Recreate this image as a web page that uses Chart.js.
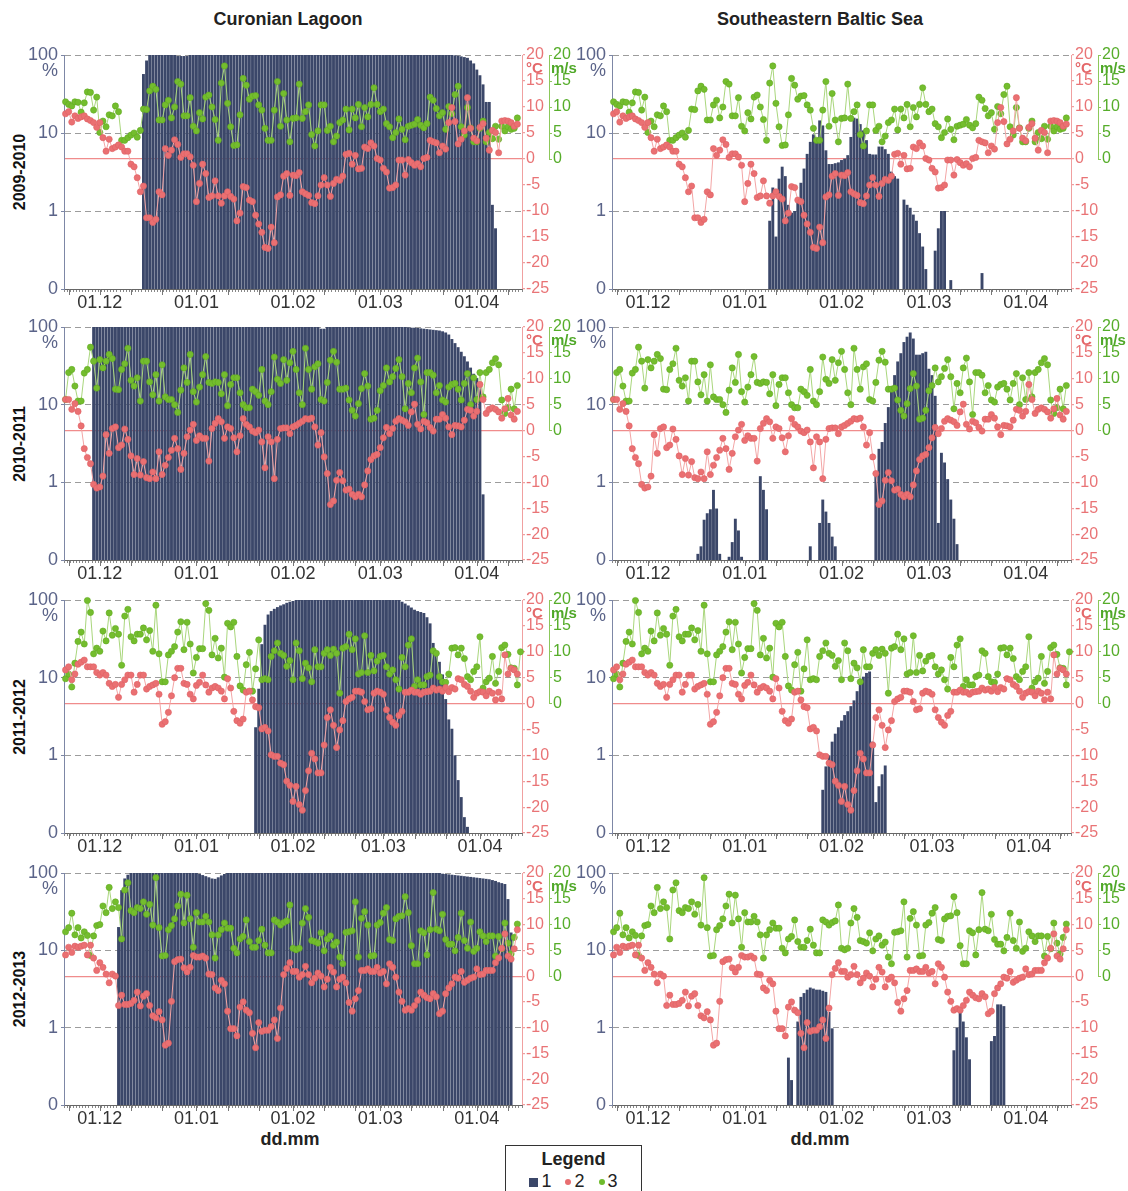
<!DOCTYPE html>
<html>
<head>
<meta charset="utf-8">
<script src="https://cdn.jsdelivr.net/npm/chart.js@4.4.1/dist/chart.umd.min.js"></script>
<style>
  body { margin: 0; width: 1128px; height: 1191px; background: #fff; position: relative; overflow: hidden;
         font-family: 'Liberation Sans', Arial, sans-serif; }
  canvas { position: absolute; }
  .title { position: absolute; top: 9px; width: 400px; text-align: center; font-weight: bold; font-size: 18px; color: #222; }
  .season { position: absolute; width: 120px; height: 20px; line-height: 20px; text-align: center;
            font-weight: bold; font-size: 16px; color: #111; transform: rotate(-90deg); }
  .xlab { position: absolute; top: 1129px; width: 100px; text-align: center; font-weight: bold; font-size: 18px; color: #222; }
  #legend { position: absolute; left: 505px; top: 1145px; width: 135px; height: 60px; border: 1.5px solid #333; text-align: center; }
  #legend .head { font-weight: bold; font-size: 18px; color: #222; margin-top: 3px; }
  #legend .items { font-size: 18px; color: #222; margin-top: 1px; }
  .sq { display: inline-block; width: 9px; height: 9px; background: #3b4769; margin-right: 3px; }
  .dot { display: inline-block; width: 6px; height: 6px; border-radius: 50%; margin: 0 3px 2px 14px; }
</style>
</head>
<body>

<div class="title" style="left:88px">Curonian Lagoon</div>
<div class="title" style="left:620px">Southeastern Baltic Sea</div>
<div class="xlab" style="left:240px">dd.mm</div>
<div class="xlab" style="left:770px">dd.mm</div>
<div id="legend">
  <div class="head">Legend</div>
  <div class="items"><span class="sq"></span>1<span class="dot" style="background:#e86e70"></span>2<span class="dot" style="background:#6fbb2c"></span>3</div>
</div>

<script>
// ---- axis labels / categories ----
const sites = ['Curonian Lagoon', 'Southeastern Baltic Sea'];
const seasons = ['2009-2010', '2010-2011', '2011-2012', '2012-2013'];
const monthLabels = ['01.12', '01.01', '01.02', '01.03', '01.04'];
const monthStart = [11, 42, 73, 101, 132];      // day index, day 0 = 20.11
const monthStartLeap = [11, 42, 73, 102, 133];
const longTicks = [1, 11, 21, 31, 42, 52, 62, 73, 83, 93, 101, 111, 121, 132, 142];
const longTicksLeap = [1, 11, 21, 31, 42, 52, 62, 73, 83, 93, 102, 112, 122, 133, 143];
const iceTicks = [0.1, 1, 10, 100];
const iceTickLabels = ['0', '1', '10', '100'];
const windTicks = [0, 5, 10, 15, 20];

// ---- air temperature, °C (daily) ----
const temp0910 = [8.7,9.1,7.1,8.3,7.8,8.1,8.3,7.7,7.4,7.0,
 6.1,7.0,4.1,1.5,3.8,2.0,2.3,2.7,2.3,1.5,
 1.5,-1.0,-1.5,-3.6,-6.3,-5.2,-11.3,-11.3,-12.2,-11.6,
 -6.3,-6.9,2.0,0.7,1.7,3.7,2.8,0.3,1.0,1.0,
 0.4,-1.2,-8.2,-4.7,-1.0,-2.8,-7.4,-7.1,-4.2,-7.1,
 -8.5,-7.1,-6.3,-7.2,-7.7,-11.9,-10.4,-5.3,-5.5,-7.9,
 -8.2,-10.8,-12.5,-14.1,-17.0,-17.2,-13.1,-16.1,-7.3,-6.9,
 -3.3,-2.8,-7.0,-3.1,-3.2,-2.6,-6.3,-6.7,-7.0,-8.4,
 -8.6,-7.1,-5.0,-3.6,-5.0,-7.2,-4.7,-3.9,-4.1,-3.3,
 0.9,1.1,-1.0,0.7,-1.9,-1.8,2.3,2.0,3.1,2.5,
 0.1,-0.2,-1.8,-2.5,-5.6,-5.5,-5.0,-0.2,-0.2,-3.1,
 -0.1,-0.7,-1.2,-0.9,-1.5,0.1,0.3,3.6,3.3,3.1,
 1.2,2.5,1.9,7.0,9.9,7.2,2.9,3.8,5.4,11.8,
 5.9,4.0,3.5,6.1,6.8,4.0,1.7,5.5,5.1,1.2,
 7.3,7.4,7.3,7.0,6.3,6.7];
const temp1011 = [6.0,6.0,4.1,5.2,3.7,0.9,-3.5,-5.2,-6.4,-10.4,
 -11.1,-10.9,-8.8,-0.8,-4.4,0.4,0.7,-3.3,-2.8,0.3,
 -1.7,-4.9,-8.5,-5.4,-8.6,-6.0,-9.1,-9.3,-8.0,-9.3,
 -4.1,-8.5,-6.7,-5.2,-3.8,-1.5,-3.5,-7.5,-4.4,-1.2,
 0.1,1.2,-1.9,-1.0,-1.5,-1.5,-5.9,0.4,1.4,2.3,
 1.7,-1.5,0.7,0.4,-1.4,-4.1,-1.0,2.3,1.2,0.7,
 -0.1,-0.4,0.1,-2.2,-7.2,-1.2,-2.2,-9.3,-1.7,0.4,
 0.5,0.5,-0.6,0.7,1.0,1.4,1.8,2.3,2.2,2.4,
 0.7,-2.8,-0.4,-5.1,-8.3,-14.3,-13.6,-9.6,-8.1,-9.7,
 -11.5,-11.3,-12.3,-12.8,-12.3,-12.8,-10.5,-7.8,-5.6,-4.9,
 -4.6,-3.3,-1.4,0.6,-0.6,0.4,1.8,2.3,2.0,1.7,
 1.0,3.6,5.1,1.2,0.3,1.8,1.5,0.6,-0.1,2.2,
 2.2,3.1,2.4,0.7,-0.8,1.0,0.9,0.7,2.0,4.1,
 3.9,2.8,3.7,8.9,6.0,3.3,4.1,4.4,4.1,3.6,
 2.4,4.2,6.2,3.0,2.2,3.7];
const temp1112 = [6.5,7.1,4.6,5.7,7.6,8.0,8.4,7.1,7.1,7.1,
 6.0,5.5,6.0,5.5,3.9,3.3,3.7,1.2,3.7,4.6,
 5.5,5.5,2.2,3.7,5.5,5.5,2.8,3.3,3.6,3.9,
 1.8,-4.0,-3.5,-1.7,1.5,5.0,6.8,6.8,3.9,3.7,
 1.8,0.9,3.5,4.1,5.5,3.6,2.2,3.0,3.3,3.0,
 2.4,0.9,4.8,3.0,-1.5,-3.3,-3.8,-3.0,2.2,2.4,
 0.7,-0.6,-0.8,-4.9,-4.6,-5.3,-9.9,-10.2,-10.2,-11.5,
 -11.8,-15.0,-15.8,-18.9,-16.0,-19.5,-20.6,-16.8,-13.0,-9.6,
 -10.7,-13.4,-13.4,-8.0,-2.7,-1.2,-4.2,-8.5,-5.1,-3.3,
 0.4,0.9,1.2,2.4,2.4,2.2,0.4,-1.2,-1.0,2.0,
 2.4,2.2,1.8,-1.2,-2.7,-3.6,-4.2,-2.3,-1.5,2.2,
 2.2,2.6,2.2,2.2,1.8,2.2,2.3,2.4,3.0,2.6,
 2.8,2.4,3.1,2.3,3.1,2.8,4.8,4.6,3.7,3.3,
 2.4,1.2,2.0,2.3,2.2,1.5,2.4,2.0,0.7,2.2,
 0.9,9.4,5.7,6.8,6.5,5.7];
const temp1213 = [4.1,5.6,4.6,5.8,5.6,5.8,6.0,4.1,6.0,3.5,
 1.1,2.6,1.7,0.4,-1.3,0.4,0.0,-5.7,-3.7,-5.5,
 -5.5,-5.3,-4.7,-3.1,-5.8,-3.9,-3.4,-5.7,-7.7,-8.1,
 -6.9,-8.5,-13.4,-13.0,-4.9,2.8,3.2,3.3,1.6,0.8,
 1.7,4.0,3.7,3.7,3.9,3.5,0.4,0.3,-2.3,-2.8,
 -0.8,-1.5,-6.8,-10.2,-10.2,-11.6,-6.0,-5.0,-6.6,-7.1,
 -11.1,-13.9,-9.0,-10.7,-10.5,-10.5,-9.8,-8.5,-12.1,-6.2,
 0.3,1.5,2.6,0.9,0.9,-0.2,0.3,1.9,0.3,-1.3,
 -0.4,0.6,0.0,-2.1,-0.6,1.7,0.8,-2.1,-0.6,-0.2,
 -1.3,-5.1,-6.8,-4.4,-2.8,1.1,1.1,1.4,0.9,0.9,
 1.7,0.6,0.9,-1.5,2.4,1.7,-0.2,-3.1,-4.9,-6.6,
 -6.3,-6.6,-5.7,-4.7,-3.1,-3.7,-4.2,-4.4,-3.4,-4.0,
 -7.3,-6.8,-3.4,-2.3,-1.5,-0.2,-0.4,0.9,-1.2,-0.8,
 -0.4,-0.2,1.4,0.3,0.4,1.1,1.1,1.1,2.6,3.5,
 5.4,8.2,3.9,3.3,5.3,9.0];

// ---- wind speed, m/s (daily) ----
const wind0910 = [11.0,10.5,10.2,11.0,10.9,9.0,10.8,12.9,12.8,9.4,
 11.9,5.1,7.3,6.2,8.5,8.3,10.2,9.1,3.6,3.6,
 4.1,4.6,5.0,4.2,5.5,9.6,9.5,13.1,14.0,13.4,
 7.5,7.5,10.4,11.3,7.9,10.0,14.9,14.4,8.3,8.3,
 11.8,6.3,5.4,8.9,7.7,11.9,12.3,10.0,7.6,3.6,
 14.6,17.9,10.7,6.2,2.6,2.7,8.5,15.5,14.2,11.5,
 12.1,12.2,10.4,9.4,5.9,3.6,3.6,9.4,14.9,6.3,
 12.6,7.5,3.3,7.8,7.9,14.4,7.8,9.1,10.4,4.7,
 2.5,5.4,10.4,10.4,5.5,6.3,3.3,4.4,7.0,7.5,
 9.6,5.6,9.6,7.9,10.5,6.2,9.9,8.1,10.5,13.7,
 10.5,9.1,9.6,6.8,6.2,4.1,5.1,7.7,5.7,3.7,
 6.3,6.5,6.7,7.6,6.5,6.0,6.8,11.9,11.3,9.7,
 8.3,8.9,5.7,10.1,8.7,12.4,14.0,6.2,4.6,9.9,
 6.0,3.3,3.3,5.9,7.3,3.3,5.1,3.9,6.3,3.8,
 6.3,5.4,6.2,5.7,5.9,7.9];
const wind1011 = [6.0,11.2,11.8,8.6,5.7,5.7,11.1,11.8,16.1,13.4,
 8.2,13.7,12.1,13.4,14.7,13.9,8.0,7.9,11.8,12.9,
 15.9,9.7,8.6,10.2,5.7,13.4,13.4,9.4,6.9,10.8,
 5.7,12.7,6.5,6.0,6.0,5.0,3.5,7.8,12.1,9.3,
 14.7,7.5,5.5,8.4,10.8,14.3,9.3,9.1,9.4,9.3,
 7.1,10.8,4.8,8.9,10.2,10.2,7.3,5.0,4.4,4.4,
 8.0,7.5,6.8,11.8,5.7,5.0,7.5,14.2,9.9,9.1,
 13.7,9.7,13.1,15.3,11.8,7.3,5.0,15.9,11.8,8.0,
 12.3,12.9,6.0,5.7,9.3,13.6,15.3,13.2,8.0,8.0,
 8.2,5.9,3.9,2.8,5.2,8.1,11.0,8.6,2.2,2.4,
 3.9,7.7,8.7,12.1,9.4,10.4,12.0,13.7,10.4,4.2,
 9.1,7.3,12.1,14.0,9.4,3.1,11.2,11.2,10.7,7.3,
 8.7,5.9,5.5,8.4,8.9,9.1,8.0,5.9,9.1,11.0,
 5.0,10.2,6.0,11.2,6.5,11.2,11.8,13.1,13.9,12.7,
 5.9,3.3,4.4,8.0,4.2,8.7];
const wind1112 = [4.8,5.7,3.2,7.8,12.0,13.8,11.5,19.9,17.6,9.6,
 10.7,10.1,14.0,12.1,17.5,13.2,14.5,13.4,7.4,16.9,
 18.2,12.9,12.1,13.4,13.4,14.6,12.3,14.1,10.1,19.0,
 9.6,4.2,4.2,9.4,10.1,11.0,13.8,15.8,10.4,15.7,
 11.5,5.9,8.9,10.6,10.6,19.3,18.0,9.4,12.6,8.8,
 10.7,5.1,15.5,14.8,15.7,9.1,3.4,2.6,7.5,9.9,
 2.4,6.7,12.3,4.6,4.8,4.6,9.1,10.2,11.7,9.7,
 9.3,7.2,8.3,4.6,11.7,10.2,4.8,7.8,6.9,4.2,
 10.4,7.1,7.1,9.7,10.4,9.3,10.5,9.7,2.0,10.7,
 11.0,13.4,10.4,12.5,5.7,6.0,13.1,6.0,9.3,6.3,
 8.2,9.1,9.3,7.1,5.7,6.5,4.6,2.8,8.9,7.1,
 11.3,12.5,3.3,4.6,3.6,3.6,5.2,5.5,10.2,9.7,
 5.2,4.2,4.1,5.7,10.7,10.8,9.4,10.7,8.7,5.2,
 4.6,6.2,7.1,12.9,3.0,4.2,4.9,9.1,3.9,6.2,
 10.8,11.3,9.5,6.9,6.8,3.6,10.0];
const wind1213 = [8.6,9.4,12.2,8.0,9.4,7.4,8.6,7.9,4.0,7.8,
 9.8,10.0,13.6,12.3,17.2,13.1,14.4,13.3,7.2,16.7,
 18.1,12.7,12.3,13.3,13.1,14.4,12.0,13.9,9.9,19.1,
 9.4,3.9,4.0,9.0,9.8,11.1,13.6,15.9,10.3,15.7,
 11.1,5.6,12.3,10.5,10.5,11.6,10.5,8.0,3.5,8.0,
 9.0,10.3,9.3,9.3,5.4,4.5,7.2,7.7,10.9,6.7,
 5.6,5.6,6.9,9.1,6.0,4.5,4.5,10.9,10.5,9.9,
 10.4,10.7,13.8,5.4,5.1,5.4,10.3,13.1,11.4,6.9,
 6.7,6.4,8.4,4.9,7.2,7.8,6.0,6.6,3.7,2.4,
 8.5,8.6,8.8,14.4,3.7,11.2,12.5,9.9,3.9,4.0,
 9.9,10.4,12.2,13.3,7.1,6.9,11.1,11.6,11.7,15.4,
 12.3,5.9,2.4,2.4,8.8,8.4,4.1,9.0,16.2,9.1,
 8.8,12.0,7.1,6.2,6.2,4.9,7.5,12.2,6.9,5.4,
 10.5,4.8,5.4,8.6,7.8,6.7,7.8,7.8,3.9,7.7,
 5.3,10.3,6.4,4.3,7.5,10.1];

// ---- ice cover, % (daily, from the start day on) ----
const iceLagoon0910Start = 25;
const iceLagoon0910 = [57,85,100,100,100,100,100,100,100,100,100,
 97,97,97,97,
 100,100,100,100,100,100,100,100,100,100,100,100,
 100,100,100,100,100,100,100,100,100,100,100,100,
 100,100,100,100,100,100,100,100,100,100,100,100,
 100,100,100,100,100,100,100,100,100,100,100,100,
 100,100,100,100,100,100,100,100,100,100,100,100,
 100,100,100,100,100,100,100,100,100,100,100,100,
 100,100,100,100,100,100,100,100,100,100,100,100,
 100,99,98,96,94,92,85,78,65,55,42,25,25,1.2,0.6];
const iceSea0910Start = 50;
const iceSea0910 = [0.75,2.0,0.47,2.6,3.7,2.8,1.2,0.95,1.0,1.4,
 2.3,3.5,5.4,7.7,9.6,8.4,14.5,12.5,6.0,4.0,
 4.0,4.1,4.2,4.5,4.7,5.2,8.9,15.7,15.3,13,
 10.8,8.1,5.4,5.3,5.3,6.7,6.7,6.2,5.4,3.2,
 2.8,2.6,0,1.4,1.2,1.1,0.9,0.75,0.52,0.35,
 0.18,0,0,0.31,0.6,1.0,1.0,0,0.13,0,
 0,0,0,0,0,0,0,0.1,0.16];
const iceLagoon1011Start = 9;
const iceLagoon1011 = [100,100,100,100,100,100,100,100,100,100,100,100,
 100,100,100,100,100,100,100,100,100,100,100,100,
 100,100,100,100,100,100,100,100,100,100,100,100,
 100,100,100,100,100,100,100,100,100,100,100,100,
 100,100,100,100,100,100,100,100,100,100,100,100,
 100,100,100,100,100,100,100,100,100,100,100,100,
 100,
 95,95,
 100,100,100,100,100,100,100,100,100,100,100,100,
 100,100,100,100,100,100,100,100,100,100,100,100,
 100,100,
 99,98,98,97,96,95,94,93,92,91,90,88,85,80,70,62,55,48,42,36,30,25,22,19,0.7];
const iceSea1011Start = 27;
const iceSea1011 = [0.12,0.15,0.33,0.4,0.45,0.8,0.46,0.12,
 0,0,
 0.11,0.17,0.34,0.24,0.11,
 0,0,0,0,0,
 1.2,0.8,0.45,
 0,0,0,0,0,0,0,0,0,0,0,0,
 0.1,0.15,
 0,0,
 0.3,0.6,0.42,0.3,0.2,0.15,0.1,
 0,0,0,0,0,0,0,0,0,0,0,
 1.3,2.7,3.3,5.8,9.3,14.7,24,36,46,64,
 75,85,71,44,44,46,48,29,24,13,
 0.3,2.4,1.8,1.1,0.6,0.34,0.16,0.1];
const iceLagoon1112Start = 61;
const iceLagoon1112 = [2.3,7.2,27,48,65,72,77,81,85,88,92,95,97,
 100,100,100,100,100,100,100,100,100,100,100,100,
 100,100,100,100,100,100,100,100,100,100,100,100,
 100,100,100,100,100,100,100,100,100,
 100,95,90,85,80,75,72,70,68,60,50,28,19,16,11,5.3,2.9,2.2,1.0,0.48,0.29,0.16,0.12];
const iceSea1112Start = 67;
const iceSea1112 = [0.36,0.72,1.0,1.5,1.9,2.3,2.8,3.3,3.7,4.3,
 5.1,6.7,8.5,10.3,11.5,12,1.5,0.25,0.4,0.57,0.74];
const iceLagoon1213Start = 17;
const iceLagoon1213 = [20,60,85,95,
 100,100,100,100,100,100,100,100,100,100,100,100,
 100,100,100,100,100,100,100,100,100,100,
 97,94,91,88,85,84,88,93,97,
 100,100,100,100,100,100,100,100,100,100,100,100,
 100,100,100,100,100,100,100,100,100,100,100,100,
 100,100,100,100,100,100,100,100,100,100,100,100,
 100,100,100,100,100,100,100,100,100,100,100,100,
 100,100,100,100,100,100,100,100,100,100,100,100,
 100,100,100,100,100,100,100,100,100,
 98,97,96,95,94,93,92,91,90,89,88,87,86,85,84,83,81,79,76,74,72,46,17];
const iceSea1213Start = 56;
const iceSea1213 = [0.41,0.21,0,1.2,2.5,2.8,3.1,3.3,3.2,3.1,3.1,3.0,2.9,1.6,0.98,
 0,0,0,0,0,0,0,0,0,0,0,0,0,0,0,0,0,0,0,0,0,0,0,0,0,0,0,0,0,0,0,0,0,0,0,0,0,0,
 0.51,1.0,1.55,1.2,0.75,0.39,
 0,0,0,0,0,0,
 0.67,0.78,2.0,2.0,1.9];

const rows = [
  { season: seasons[0], temp: temp0910, wind: wind0910, months: monthStart, marks: longTicks,
    ice: [[iceLagoon0910Start, iceLagoon0910], [iceSea0910Start, iceSea0910]] },
  { season: seasons[1], temp: temp1011, wind: wind1011, months: monthStart, marks: longTicks,
    ice: [[iceLagoon1011Start, iceLagoon1011], [iceSea1011Start, iceSea1011]] },
  { season: seasons[2], temp: temp1112, wind: wind1112, months: monthStartLeap, marks: longTicksLeap,
    ice: [[iceLagoon1112Start, iceLagoon1112], [iceSea1112Start, iceSea1112]] },
  { season: seasons[3], temp: temp1213, wind: wind1213, months: monthStart, marks: longTicks,
    ice: [[iceLagoon1213Start, iceLagoon1213], [iceSea1213Start, iceSea1213]] }
];

const areaTop = [55, 327, 600, 873];
const areaH = [234, 233, 233, 232];
const dayTicks = [];
for (let d = 0; d <= 146; d++) dayTicks.push(d);

Chart.defaults.font.family = "'Liberation Sans', Arial, sans-serif";

// extra marks: longer day ticks, short wind axis line, unit labels
const decor = {
  id: 'decor',
  afterDraw(chart, args, opts) {
    const { ctx, chartArea, scales } = chart;
    const x = scales.x, w = scales.wind, t = scales.temp, ice = scales.ice;
    ctx.save();
    ctx.strokeStyle = '#777';
    ctx.lineWidth = 1;
    opts.marks.forEach(d => {
      const px = Math.round(x.getPixelForValue(d)) + 0.5;
      ctx.beginPath();
      ctx.moveTo(px, chartArea.bottom);
      ctx.lineTo(px, chartArea.bottom + 6);
      ctx.stroke();
    });
    const wx = Math.round(w.left) + 0.5;
    ctx.strokeStyle = '#8cc85a';
    ctx.beginPath();
    ctx.moveTo(wx, w.getPixelForValue(0));
    ctx.lineTo(wx, w.getPixelForValue(20));
    ctx.stroke();
    ctx.textBaseline = 'middle';
    ctx.font = "18px 'Liberation Sans', Arial, sans-serif";
    ctx.fillStyle = '#5b6489';
    ctx.textAlign = 'right';
    ctx.fillText('%', ice.right - 6, chartArea.top + 16);
    ctx.textAlign = 'left';
    ctx.font = "bold 15px 'Liberation Sans', Arial, sans-serif";
    ctx.fillStyle = '#e4686a';
    ctx.fillText('°C', t.left + 4, chartArea.top + 14);
    ctx.fillStyle = '#4fa828';
    ctx.fillText('m/s', w.left + 2, chartArea.top + 14);
    ctx.restore();
  }
};

function makeChart(canvas, row, site) {
  const [start, vals] = row.ice[site];
  const iceData = [];
  vals.forEach((v, i) => { if (v > 0) iceData.push({ x: start + i, y: v }); });
  const tData = row.temp.map((v, i) => ({ x: i, y: v }));
  const wData = row.wind.map((v, i) => ({ x: i, y: v }));
  const greenW = site === 0 ? 36 : 30;

  return new Chart(canvas, {
    data: {
      datasets: [
        { type: 'bar', data: iceData, yAxisID: 'ice', backgroundColor: '#3b4769', borderWidth: 0,
          barPercentage: 0.93, categoryPercentage: 1, order: 3 },
        { type: 'line', data: wData, yAxisID: 'wind', borderColor: '#a9d67c', borderWidth: 1,
          pointRadius: 3.1, pointBackgroundColor: '#74bd2e', pointBorderColor: '#62ab22', pointBorderWidth: 0.6,
          order: 2, clip: 8 },
        { type: 'line', data: tData, yAxisID: 'temp', borderColor: '#f3a5a5', borderWidth: 1,
          pointRadius: 3.1, pointBackgroundColor: '#ea7072', pointBorderColor: '#df6264', pointBorderWidth: 0.6,
          order: 1, clip: 8 }
      ]
    },
    options: {
      responsive: false,
      animation: false,
      devicePixelRatio: 1,
      layout: { padding: { top: 15, left: 0, right: 0, bottom: 0 } },
      plugins: { legend: { display: false }, tooltip: { enabled: false }, decor: { marks: row.marks } },
      scales: {
        x: {
          type: 'linear', min: 0, max: 146,
          afterFit: s => { s.height = 32; },
          afterBuildTicks: s => { s.ticks = dayTicks.map(v => ({ value: v })); },
          ticks: {
            autoSkip: false, maxRotation: 0, minRotation: 0, padding: 0, color: '#333', font: { size: 18 },
            callback: v => { const i = row.months.indexOf(v); return i < 0 ? '' : monthLabels[i]; }
          },
          grid: { drawOnChartArea: false, tickLength: 3, tickColor: '#888' },
          border: { color: '#666' }
        },
        ice: {
          type: 'logarithmic', position: 'left', min: 0.1, max: 100,
          afterFit: s => { s.width = 64; },
          afterBuildTicks: s => { s.ticks = iceTicks.map(v => ({ value: v })); },
          ticks: { color: '#5b6489', font: { size: 18 }, padding: 3,
                   callback: v => iceTickLabels[iceTicks.indexOf(v)] },
          grid: { color: c => (c.tick && c.tick.value > 0.1) ? '#9c9c9c' : 'rgba(0,0,0,0)',
                  tickColor: '#7d87a6', tickLength: 3 },
          border: { color: '#7d87a6', dash: [6, 4] }
        },
        temp: {
          position: 'right', min: -25, max: 20, weight: 0,
          afterFit: s => { s.width = 27; },
          ticks: { stepSize: 5, color: '#e97476', font: { size: 16 }, padding: 1 },
          grid: { color: c => (c.tick && c.tick.value === 0) ? '#f08c8c' : 'rgba(0,0,0,0)', lineWidth: 1.2,
                  tickColor: '#f0a0a0', tickLength: 3 },
          border: { color: '#f0a0a0' }
        },
        wind: {
          position: 'right', min: -25, max: 20, weight: 1,
          afterFit: s => { s.width = greenW; },
          afterBuildTicks: s => { s.ticks = windTicks.map(v => ({ value: v })); },
          ticks: { color: '#56ad2a', font: { size: 16 }, padding: 1 },
          grid: { drawOnChartArea: false, tickColor: '#8cc85a', tickLength: 3 },
          border: { display: false }
        }
      }
    },
    plugins: [decor]
  });
}

rows.forEach((row, r) => {
  const lab = document.createElement('div');
  lab.className = 'season';
  lab.textContent = row.season;
  lab.style.left = (20 - 60) + 'px';
  lab.style.top = (areaTop[r] + areaH[r] / 2 - 10) + 'px';
  document.body.appendChild(lab);

  [0, 1].forEach(site => {
    const c = document.createElement('canvas');
    const left = site === 0 ? 0 : 548;
    const width = site === 0 ? 585 : 580;
    const height = 15 + areaH[r] + 32;
    c.width = width;
    c.height = height;
    c.style.left = left + 'px';
    c.style.top = (areaTop[r] - 15) + 'px';
    c.style.width = width + 'px';
    c.style.height = height + 'px';
    c.setAttribute('aria-label', sites[site] + ' ' + row.season);
    document.body.appendChild(c);
    makeChart(c, row, site);
  });
});
</script>
</body>
</html>
